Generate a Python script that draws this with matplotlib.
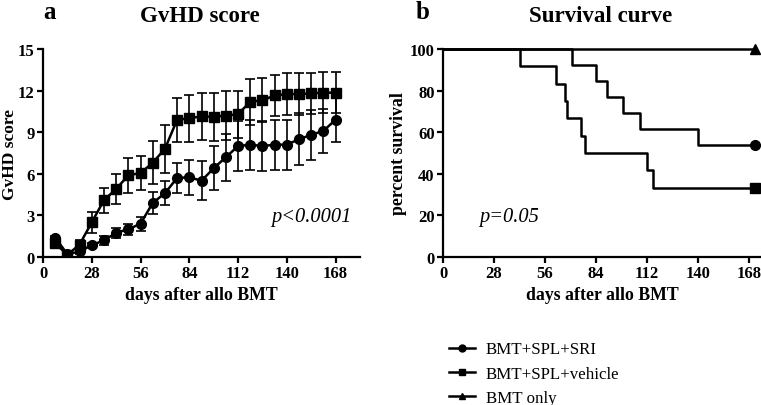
import matplotlib
matplotlib.use("Agg")
import matplotlib.pyplot as plt
from matplotlib.lines import Line2D

plt.rcParams['font.family'] = ['Liberation Serif', 'DejaVu Serif']

# GvHD score data (weekly)
days = [7, 14, 21, 28, 35, 42, 49, 56, 63, 70, 77, 84, 91, 98, 105, 112,
        119, 126, 133, 140, 147, 154, 161, 168]
sri_score = [1.4, 0.2, 0.4, 0.85, 1.2, 1.75, 2.0, 2.4, 3.9, 4.6, 5.7, 5.75,
             5.5, 6.4, 7.2, 8.0, 8.1, 8.0, 8.1, 8.1, 8.5, 8.8, 9.1, 9.9]
sri_err = [0.1, 0.1, 0.15, 0.15, 0.3, 0.35, 0.4, 0.5, 0.8, 0.85, 1.05, 1.25,
           1.4, 1.6, 1.7, 1.8, 1.8, 1.8, 1.8, 1.8, 1.9, 1.8, 1.6, 1.6]
veh_score = [1.0, 0.15, 0.9, 2.5, 4.1, 4.9, 5.9, 6.05, 6.8, 7.8, 9.9, 10.0,
             10.15, 10.1, 10.2, 10.3, 11.2, 11.3, 11.65, 11.75, 11.75, 11.8, 11.85, 11.85]
veh_err = [0.1, 0.1, 0.3, 0.75, 0.9, 1.1, 1.25, 1.25, 1.55, 1.75, 1.6, 1.7,
           1.7, 1.75, 1.75, 1.7, 1.65, 1.6, 1.5, 1.5, 1.5, 1.5, 1.5, 1.5]

# survival data (Kaplan-Meier steps)
sri_days = [0, 71, 84, 90, 99, 108, 140, 171]
sri_surv = [100, 92.3, 84.6, 76.9, 69.2, 61.5, 53.8, 53.8]
veh_days = [0, 42, 62, 67, 68, 76, 78, 112, 115, 171]
veh_surv = [100, 91.7, 83.3, 75, 66.7, 58.3, 50, 41.7, 33.3, 33.3]
bmt_days = [0, 171]
bmt_surv = [100, 100]

xticks = [0, 28, 56, 84, 112, 140, 168]
labels = ['BMT+SPL+SRI', 'BMT+SPL+vehicle', 'BMT only']

W, H = 761, 406
fig = plt.figure(figsize=(W / 100, H / 100), dpi=100)

def px_axes(x0, y0, x1, y1):
    return fig.add_axes([x0 / W, 1 - y1 / H, (x1 - x0) / W, (y1 - y0) / H])

def style(ax):
    for s in ['top', 'right']:
        ax.spines[s].set_visible(False)
    for s in ['left', 'bottom']:
        ax.spines[s].set_linewidth(1.6)
    ax.tick_params(direction='out', length=4, width=1.6, labelsize=12, pad=2)
    for lab in ax.get_xticklabels() + ax.get_yticklabels():
        lab.set_fontweight('bold')

# panel a
ax1 = px_axes(43, 50, 360, 258)
ax1.errorbar(days, sri_score, yerr=sri_err, color='black', marker='o', ms=7,
             lw=1.8, elinewidth=1.2, capsize=3.5, capthick=1.2)
ax1.errorbar(days, veh_score, yerr=veh_err, color='black', marker='s', ms=7,
             lw=1.8, elinewidth=1.2, capsize=3.5, capthick=1.2)
ax1.set_xlim(0, 182)
ax1.set_ylim(0, 15)
ax1.set_xticks(xticks)
ax1.set_yticks([0, 3, 6, 9, 12, 15])
style(ax1)
ax1.set_xlabel('days after allo BMT', fontsize=12.8, fontweight='bold', labelpad=3)
ax1.set_ylabel('GvHD score', fontsize=12.5, fontweight='bold')
ax1.yaxis.set_label_coords(-0.08, 0.5)
ax1.text(177, 2.9, 'p<0.0001', fontsize=14.7, style='italic', ha='right', va='center')
fig.text(200 / W, 1 - 16 / H, 'GvHD score', fontsize=16.5, fontweight='bold',
         ha='center', va='center')
fig.text(50 / W, 1 - 1 / H, 'a', fontsize=18, fontweight='bold',
         ha='center', va='top')

# panel b
ax2 = px_axes(443, 50, 761, 258)
ax2.step(sri_days, sri_surv, where='post', color='black', lw=1.8,
         marker='o', ms=7, markevery=[-1], clip_on=False)
ax2.step(veh_days, veh_surv, where='post', color='black', lw=1.8,
         marker='s', ms=7, markevery=[-1], clip_on=False)
ax2.step(bmt_days, bmt_surv, where='post', color='black', lw=1.8,
         marker='^', ms=7, markevery=[-1], clip_on=False)
ax2.set_xlim(0, 174.5)
ax2.set_ylim(0, 100)
ax2.set_xticks(xticks)
ax2.set_yticks([0, 20, 40, 60, 80, 100])
style(ax2)
ax2.set_xlabel('days after allo BMT', fontsize=12.8, fontweight='bold', labelpad=3)
ax2.set_ylabel('percent survival', fontsize=12.8, fontweight='bold')
ax2.yaxis.set_label_coords(-0.112, 0.5)
ax2.text(20, 19.7, 'p=0.05', fontsize=14.7, style='italic', ha='left', va='center')
fig.text(601 / W, 1 - 16 / H, 'Survival curve', fontsize=16.5, fontweight='bold',
         ha='center', va='center')
fig.text(423 / W, 1 - 1 / H, 'b', fontsize=18, fontweight='bold',
         ha='center', va='top')

handles = [Line2D([], [], color='black', lw=1.8, marker=m, ms=5)
           for m in ['o', 's', '^']]
fig.legend(handles, labels, loc='upper left', bbox_to_anchor=(441 / W, 1 - 334 / H),
           frameon=False, fontsize=12.2, handlelength=1.5, handletextpad=0.65,
           labelspacing=0.5, borderpad=0)

fig.savefig('out.png', dpi=100)
